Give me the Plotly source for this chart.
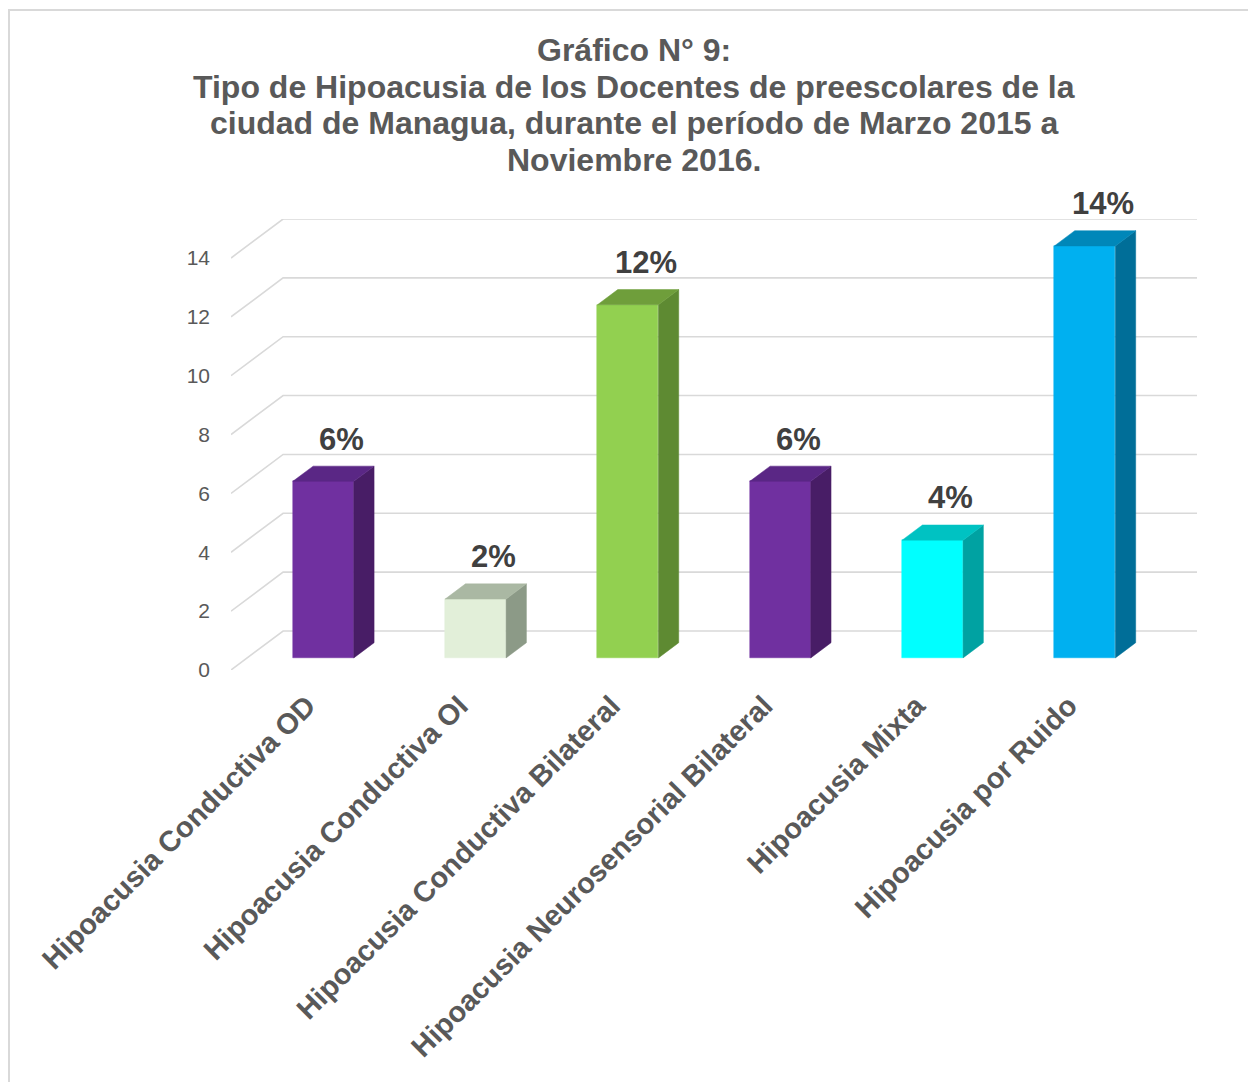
import plotly.graph_objects as go

# Categories and their percentages
categories = [
    "Hipoacusia Conductiva OD",
    "Hipoacusia Conductiva OI",
    "Hipoacusia Conductiva Bilateral",
    "Hipoacusia Neurosensorial Bilateral",
    "Hipoacusia Mixta",
    "Hipoacusia por Ruido",
]
values = [6, 2, 12, 6, 4, 14]
y_ticks = [0, 2, 4, 6, 8, 10, 12, 14]

# Face colours per bar: front, top, side
front_colors = ["#7030a0", "#e2efd9", "#92d050", "#7030a0", "#00ffff", "#00b0f0"]
top_colors = ["#5a2785", "#aab8a3", "#6f9e3b", "#5a2785", "#00c2c2", "#0087b9"]
side_colors = ["#481d66", "#8c9a87", "#5e8a32", "#481d66", "#00a2a2", "#006e98"]

# Oblique projection of the chart depth, expressed in axis units
DEPTH_X = 0.342
DEPTH_Y = 1.325
BAR_FRONT = 0.31   # depth fraction of the bar front face
BAR_BACK = 0.70    # depth fraction of the bar back face
BAR_W = 0.40

W, H = 1248, 1082
M_L, M_R, M_T, M_B = 231, 51, 219, 412

fig = go.Figure()

# Perspective gridlines: short diagonal on the side wall, then across the back wall
x_lo, x_hi = -0.5, len(categories) - 0.5
for v in y_ticks:
    fig.add_shape(
        type="path", xref="x", yref="y", layer="below",
        path=(f"M {x_lo},{v} L {x_lo + DEPTH_X},{v + DEPTH_Y} "
              f"L {x_hi + DEPTH_X},{v + DEPTH_Y}"),
        line=dict(color="#d9d9d9", width=1.6))

fx = BAR_FRONT * DEPTH_X
fy = BAR_FRONT * DEPTH_Y
sx = (BAR_BACK - BAR_FRONT) * DEPTH_X
sy = (BAR_BACK - BAR_FRONT) * DEPTH_Y

for i, v in enumerate(values):
    xl = i + fx - BAR_W / 2
    xr = i + fx + BAR_W / 2
    # side face
    fig.add_trace(go.Scatter(
        x=[xr, xr + sx, xr + sx, xr, xr],
        y=[fy, fy + sy, fy + sy + v, fy + v, fy],
        fill="toself", fillcolor=side_colors[i], mode="lines",
        line=dict(color=side_colors[i], width=0.5),
        hoverinfo="skip", showlegend=False))
    # top face
    fig.add_trace(go.Scatter(
        x=[xl, xr, xr + sx, xl + sx, xl],
        y=[fy + v, fy + v, fy + v + sy, fy + v + sy, fy + v],
        fill="toself", fillcolor=top_colors[i], mode="lines",
        line=dict(color=top_colors[i], width=0.5),
        hoverinfo="skip", showlegend=False))

# Front faces
fig.add_trace(go.Bar(
    x=[i + fx for i in range(len(values))], y=values, base=fy, width=BAR_W,
    marker=dict(color=front_colors, line=dict(color=front_colors, width=0.5)),
    showlegend=False, hoverinfo="skip"))

# Value labels above each bar
for i, v in enumerate(values):
    fig.add_annotation(
        x=i + BAR_BACK * DEPTH_X, y=v + BAR_BACK * DEPTH_Y,
        text=f"{v}%", showarrow=False, yanchor="middle", xshift=-2, yshift=27,
        font=dict(family="Liberation Sans, Arial", size=31, color="#404040", weight="bold"))

# Title lines
title_lines = [
    "Gráfico N° 9:",
    "Tipo de Hipoacusia de los Docentes de preescolares de la",
    "ciudad de Managua, durante el período de Marzo 2015 a",
    "Noviembre 2016.",
]
for k, line in enumerate(title_lines):
    fig.add_annotation(
        xref="paper", yref="paper", x=(634 - M_L) / (W - M_L - M_R),
        y=1 + (M_T - 50 - 36.5 * k) / (H - M_T - M_B),
        text=line, showarrow=False, xanchor="center", yanchor="middle",
        font=dict(family="Liberation Sans, Arial", size=32, color="#595959", weight="bold"))

# Chart frame
fig.add_shape(type="rect", xref="paper", yref="paper",
              x0=(9 - M_L) / (W - M_L - M_R), x1=(W + 20 - M_L) / (W - M_L - M_R),
              y0=-(H + 20 - (H - M_B)) / (H - M_T - M_B),
              y1=1 + (M_T - 10) / (H - M_T - M_B),
              line=dict(color="#d9d9d9", width=2), layer="below")

fig.update_layout(
    width=W, height=H, autosize=False,
    margin=dict(l=M_L, r=M_R, t=M_T, b=M_B, pad=0),
    paper_bgcolor="white", plot_bgcolor="white",
    bargap=0,
    xaxis=dict(range=[x_lo, x_hi + DEPTH_X], showgrid=False, zeroline=False,
               showline=False, tickmode="array", tickvals=list(range(len(categories))),
               ticktext=categories, tickangle=-45, ticks="", ticklabelstandoff=12,
               tickfont=dict(family="Liberation Sans, Arial", size=29, color="#595959", weight="bold")),
    yaxis=dict(range=[0, 14 + DEPTH_Y], showgrid=False, zeroline=False, showline=False,
               tickmode="array", tickvals=y_ticks, ticks="", ticklabelstandoff=20,
               tickfont=dict(family="Liberation Sans, Arial", size=21, color="#595959")),
)

fig.write_html("out.html")
